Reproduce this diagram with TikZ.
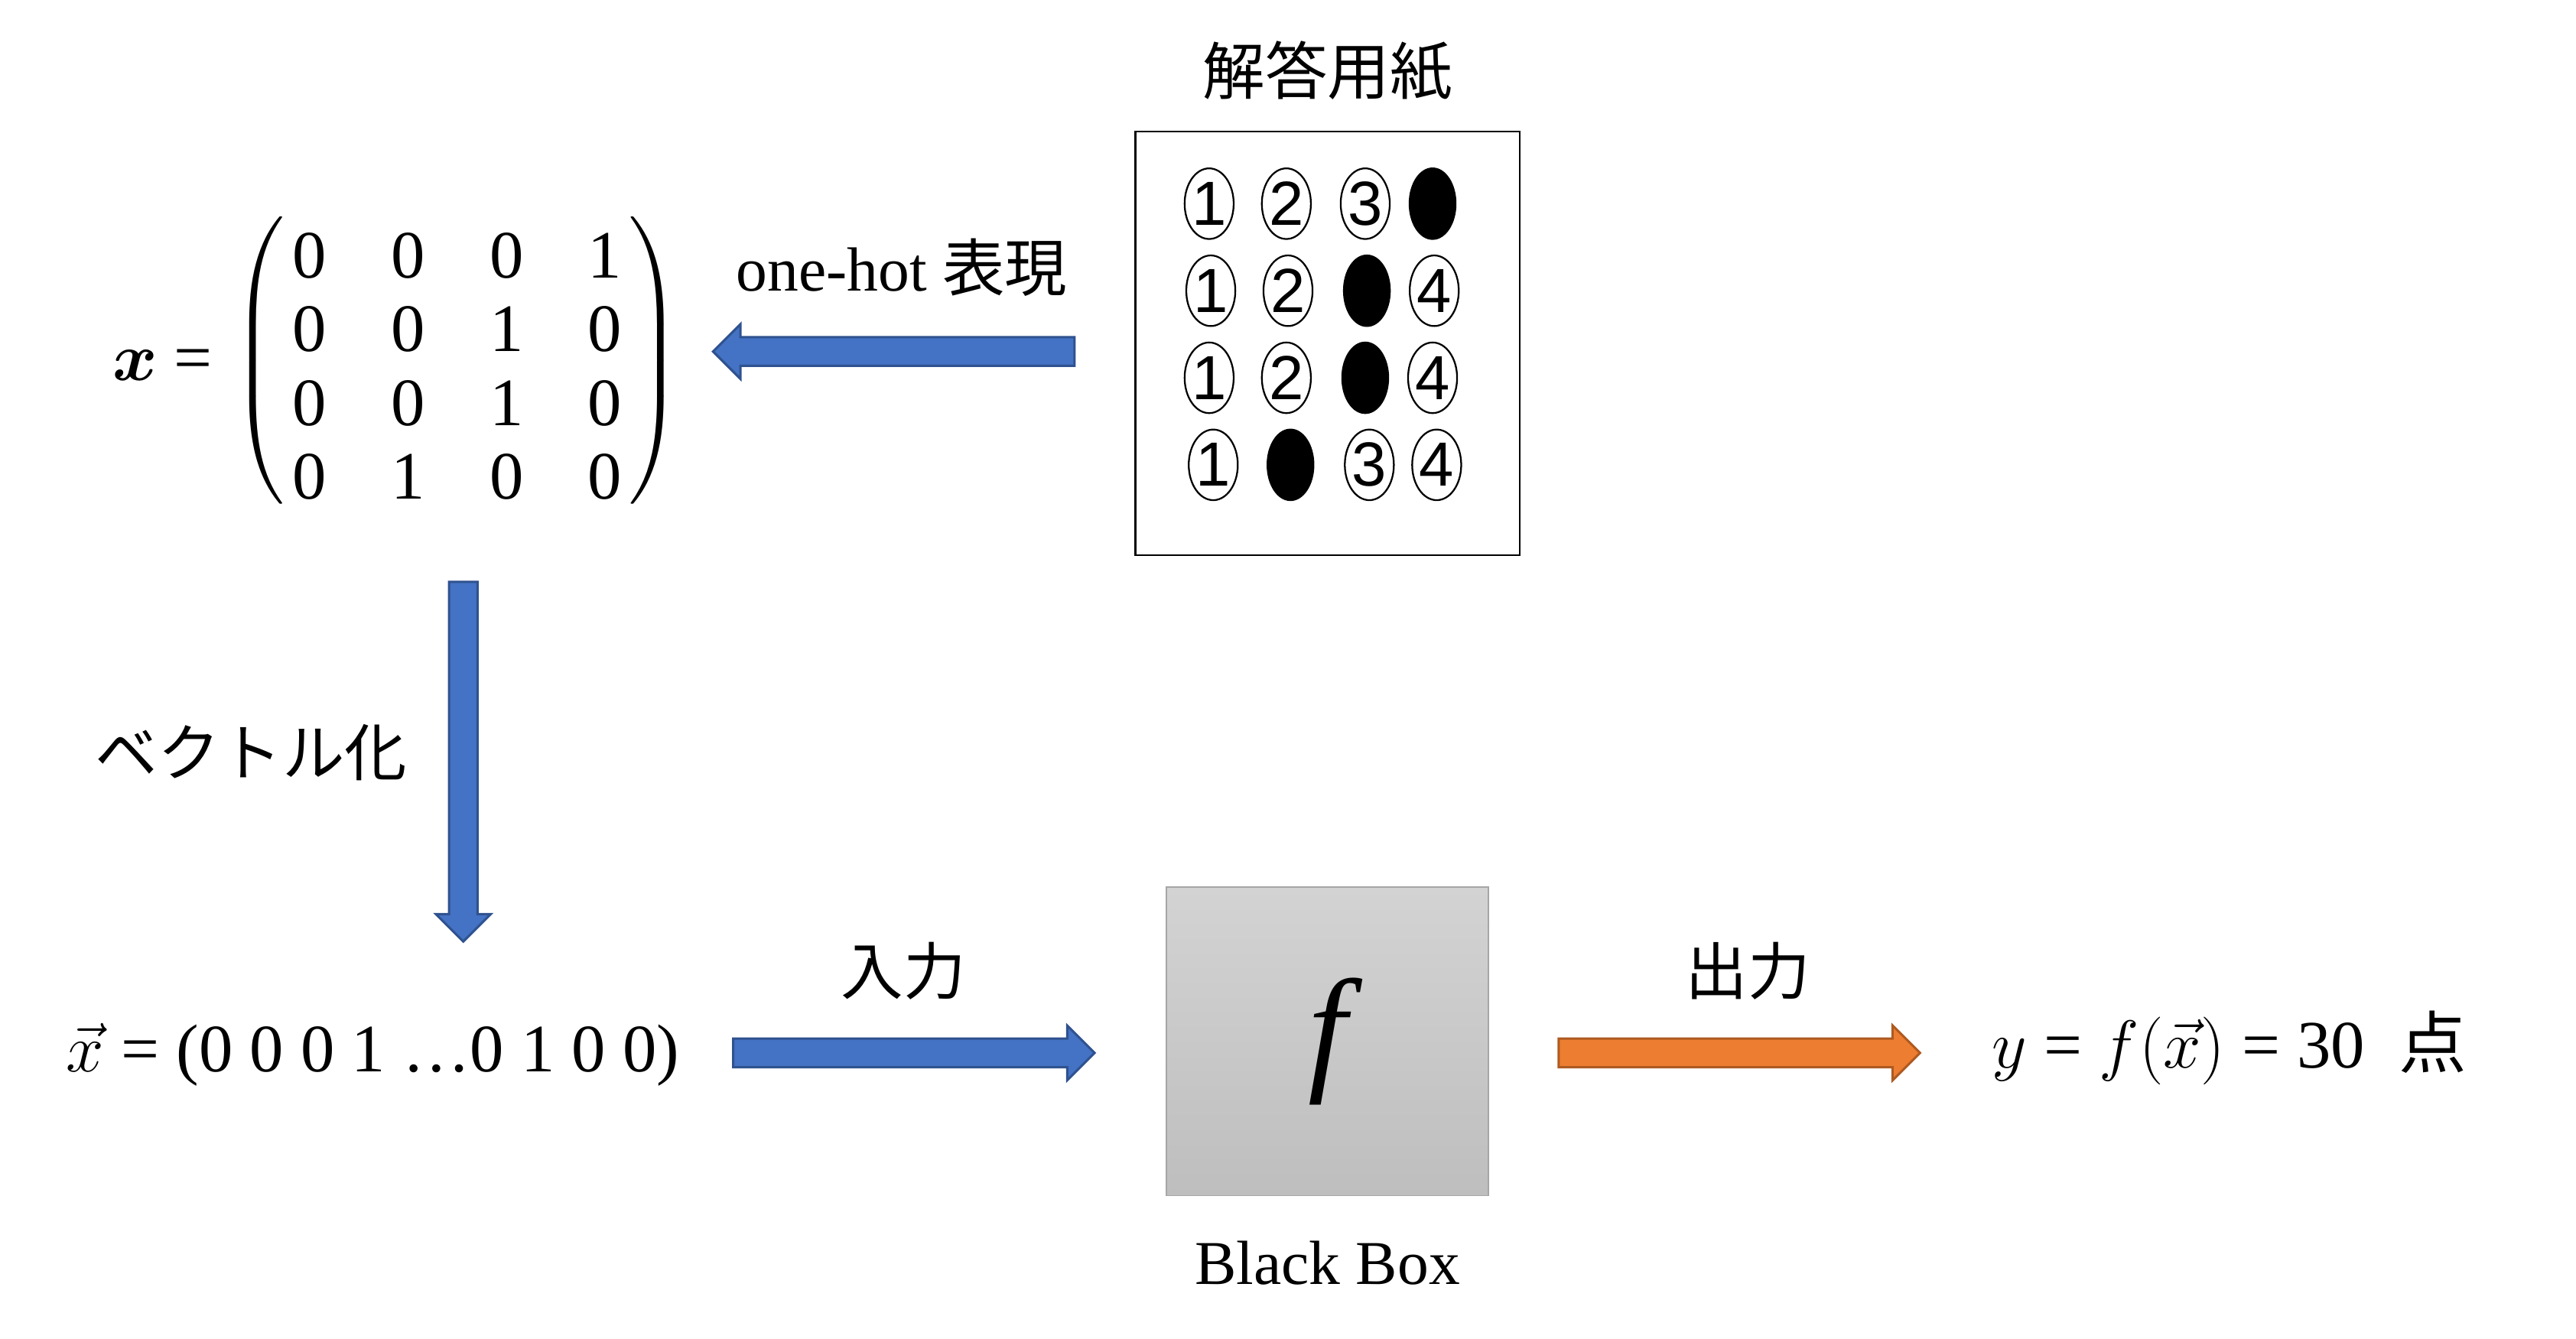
\RequirePackage{fix-cm}
\documentclass[tikz,border=0pt]{standalone}
\usepackage{amsmath}
\usepackage{fontspec}
\setmainfont{Liberation Serif}
\newfontfamily\jp{Noto Sans CJK JP}
\newfontfamily\sheetfont{Liberation Sans}
\usetikzlibrary{arrows.meta, positioning, shapes.geometric, shapes.arrows, calc, matrix}

\definecolor{arrowblue}{HTML}{4472C4}
\definecolor{arrowblueline}{HTML}{2F528F}
\definecolor{arroworange}{HTML}{ED7D31}
\definecolor{arroworangeline}{HTML}{AE5A21}
\definecolor{boxtop}{HTML}{D3D3D3}
\definecolor{boxbot}{HTML}{BEBEBE}
\definecolor{boxline}{HTML}{A6A6A6}

\begin{document}
\begin{tikzpicture}[x=0.2mm, y=-0.2mm,
    font=\fontsize{21.6}{26}\selectfont,
    % labels
    lbl/.style={inner sep=0pt},
    jlbl/.style={lbl, font=\fontsize{21.6}{26}\selectfont\jp},
    eqlbl/.style={lbl, font=\fontsize{23.5}{28}\selectfont},
    % bubbles on the answer sheet
    bub/.style={ellipse, draw, line width=0.6pt, minimum width=5.6mm, minimum height=8.6mm, inner sep=0pt, font=\fontsize{21.6}{26}\selectfont\sheetfont},
    bubon/.style={bub, fill=black},
    % block arrows
    barrow/.style={to path={let \p1=($(\tikztotarget)-(\tikztostart)$), \n1={veclen(\x1,\y1)} in
        (\tikztostart) -- (\tikztotarget)
        node[midway, sloped, allow upside down, single arrow, minimum height=\n1,
             single arrow head extend=1.6mm, inner xsep=0pt, inner ysep=1.6mm, line width=0.8pt, #1] {}}},
    bluearrow/.style={barrow={fill=arrowblue, draw=arrowblueline}},
    orangearrow/.style={barrow={fill=arroworange, draw=arroworangeline}},
  ]
\useasboundingbox (0,0) rectangle (1568,815);

% Answer sheet
\node[draw, line width=0.7pt, minimum width=46.8mm, minimum height=51.6mm] (sheet) at (808,209) {};
\node[jlbl] (sheet-t) at (808,43) {解答用紙};
\foreach \r/\m/\y/\dx in {1/4/124/0, 2/3/177/1, 3/3/230/0, 4/2/283/2.5}
  \foreach \c/\x in {1/736, 2/783, 3/831, 4/872} {
    \ifnum\c=\m
      \node[bubon] (b\r\c) at (\x+\dx,\y) {};
    \else
      \node[bub] (b\r\c) at (\x+\dx,\y) {\c};
    \fi
  }

% One-hot matrix
\matrix[matrix of nodes, left delimiter=(, right delimiter=), column sep=8mm, row sep=4mm, inner sep=0.5mm,
        nodes={inner sep=0pt, text height=5mm, text depth=0pt, text width=4mm, align=center,
               font=\fontsize{23.5}{28}\selectfont}] (mat) at (278,224) {
  0 & 0 & 0 & 1 \\
  0 & 0 & 1 & 0 \\
  0 & 0 & 1 & 0 \\
  0 & 1 & 0 & 0 \\
};
\node[eqlbl] (xeq) at (99,222) {$\boldsymbol{x}$ =};
\node[lbl] (oh) at (549,163) {one-hot {\jp 表現}};
\coordinate (oh-tail) at ($(sheet.west)+(-32,5)$);
\path (oh-tail) to[bluearrow] ($(oh-tail)+(-220,0)$);

% Vectorisation
\coordinate (vz-top) at ($(mat.south)+(4,43)$);
\node[jlbl] (vz) at (153,458) {ベクトル化};
\node[eqlbl] (vec) at (227,642) {$\vec{x}$ = (0 0 0 1 …0 1 0 0)};
\path (vz-top) to[bluearrow] ($(vz-top)+(0,219)$);

% Black box
\node[draw=boxline, top color=boxtop, bottom color=boxbot, minimum width=39.2mm, minimum height=37.6mm,
      inner sep=0pt, font=\fontsize{48}{52}\selectfont\itshape] (bb) at (808,634) {f};
\node[lbl, below=5.4mm of bb] (bbl) {Black Box};

% Input / output
\coordinate (in-tail) at ($(vec.east)+(28,-1)$);
\path (in-tail) to[bluearrow] ($(in-tail)+(220,0)$);
\node[jlbl] (in) at (550,591) {入力};
\coordinate (out-tail) at ($(bb.east |- in-tail)+(38,0)$);
\path (out-tail) to[orangearrow] ($(out-tail)+(220,0)$);
\node[jlbl] (out) at (1064,591) {出力};
\node[eqlbl, anchor=west] (res) at ($(bb.east |- in-tail)+(306,-3)$) {$y$ = $f(\vec{x})$ = 30\hspace{0.5em}{\jp 点}};
\end{tikzpicture}
\end{document}
